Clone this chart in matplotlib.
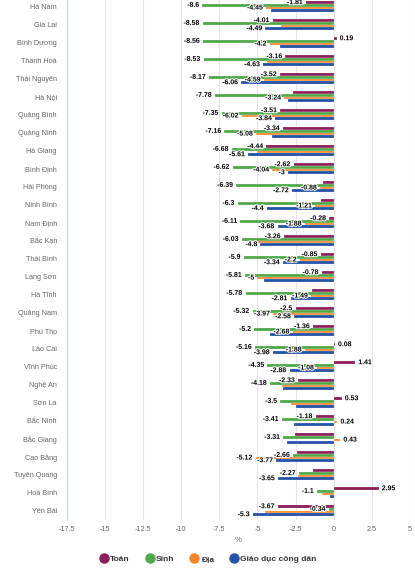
import matplotlib
matplotlib.use("Agg")
import matplotlib.pyplot as plt
import matplotlib.patheffects as pe
import numpy as np

plt.rcParams['font.family'] = ['Liberation Sans', 'DejaVu Sans']

provinces = ["Hà Nam", "Gia Lai", "Bình Dương", "Thanh Hoá", "Thái Nguyên", "Hà Nội",
             "Quảng Bình", "Quảng Ninh", "Hà Giang", "Bình Định", "Hải Phòng", "Ninh Bình",
             "Nam Định", "Bắc Kạn", "Thái Bình", "Lạng Sơn", "Hà Tĩnh", "Quảng Nam",
             "Phú Thọ", "Lào Cai", "Vĩnh Phúc", "Nghệ An", "Sơn La", "Bắc Ninh",
             "Bắc Giang", "Cao Bằng", "Tuyên Quang", "Hoà Bình", "Yên Bái"]

toan = [-1.81, -4.01, 0.19, -3.16, -3.52, -2.64, -3.51, -3.34, -4.44, -2.62,
        -0.68, -0.85, -0.28, -3.26, -0.85, -0.78, -1.4, -2.5, -1.36, 0.08,
        1.41, -2.33, 0.53, -1.18, -2.53, -2.42, -1.33, 2.95, -3.67]
sinh = [-8.6, -8.58, -8.56, -8.53, -8.17, -7.78, -7.35, -7.16, -6.68, -6.62,
        -6.39, -6.3, -6.11, -6.03, -5.9, -5.81, -5.78, -5.32, -5.2, -5.16,
        -4.35, -4.18, -3.5, -3.41, -3.31, -2.66, -2.27, -1.1, -0.34]
dia = [-4.45, -3.45, -4.2, -4.4, -4.59, -3.24, -6.02, -5.08, -5.04, -4.04,
       -0.88, -1.21, -1.88, -4.98, -2.2, -5.0, -1.49, -3.97, -2.68, -1.88,
       -1.08, -3.4, -2.8, 0.24, 0.43, -5.12, -2.36, -0.79, -4.5]
gdcd = [-4.13, -4.49, -3.52, -4.63, -6.06, -2.97, -3.84, -4.06, -5.61, -3.0,
        -2.72, -4.4, -3.68, -4.8, -3.34, -4.6, -2.81, -2.58, -4.2, -3.98,
        -2.88, -3.35, -2.47, -2.58, -3.03, -3.77, -3.65, -0.24, -5.3]

# data labels hidden in the original chart (overlaps)
toan_hidden = [5, 10, 11, 16, 24, 25, 26]
sinh_hidden = []
dia_hidden = [1, 3, 8, 13, 21, 22, 26, 27, 28]
gdcd_hidden = [0, 2, 5, 7, 15, 18, 21, 22, 23, 24, 27]

series = [("Toán", toan, toan_hidden, "#8B1D5B"),
          ("Sinh", sinh, sinh_hidden, "#4FA84A"),
          ("Địa", dia, dia_hidden, "#F5862A"),
          ("Giáo dục công dân", gdcd, gdcd_hidden, "#2352A6")]

W, H = 415, 568
fig = plt.figure(figsize=(W / 100, H / 100), dpi=100)
top_px, bot_px, left_px, right_px = -2.3, 519.7, 66.7, 410
ax = fig.add_axes([left_px / W, (H - bot_px) / H,
                   (right_px - left_px) / W, (bot_px - top_px) / H])

n = len(provinces)
y = np.arange(n)
step = 0.148
outline = [pe.withStroke(linewidth=1.6, foreground="white")]

for k, (name, vals, hidden, col) in enumerate(series):
    yy = y + (k - 1.5) * step
    ax.barh(yy, vals, height=step * 0.95, color=col, edgecolor="white",
            linewidth=0.15, zorder=3, label=name)
    for i, v in enumerate(vals):
        if i in hidden:
            continue
        off = 2.2 if v >= 0 else -2.2
        ax.annotate(f"{v:g}", (v, yy[i]), xytext=(off, 0), textcoords="offset points",
                    ha="left" if v >= 0 else "right", va="center",
                    fontsize=5, fontweight="bold", color="#000000",
                    path_effects=outline, zorder=5)

ax.set_xlim(-17.5, 5)
ax.set_ylim(n - 0.5, -0.5)
ax.set_xticks(np.arange(-17.5, 5.1, 2.5))
ax.set_xticklabels([f"{t:g}" for t in np.arange(-17.5, 5.1, 2.5)])
ax.set_yticks(y)
ax.set_yticklabels(provinces)
ax.tick_params(axis="y", length=0, pad=7, labelsize=5.2, labelcolor="#666666")
ax.tick_params(axis="x", length=0, pad=4.5, labelsize=5.2, labelcolor="#666666")
ax.grid(axis="x", color="#e6e6e6", linewidth=0.8, zorder=0)
ax.set_axisbelow(True)
for s in ["top", "right", "bottom"]:
    ax.spines[s].set_visible(False)
ax.spines["left"].set_color("#ccd6eb")
ax.spines["left"].set_linewidth(0.8)
ax.set_xlabel("%", fontsize=5.5, color="#666666", labelpad=3)

handles = [plt.Line2D([], [], marker="o", linestyle="", markersize=6.5,
                      markerfacecolor=c, markeredgecolor=c) for _, _, _, c in series]
fig.legend(handles, [s[0] for s in series], loc="center", ncol=4,
           bbox_to_anchor=(208 / W, (H - 559) / H), frameon=False,
           prop={"size": 6, "weight": "bold"}, labelcolor="#333333",
           handletextpad=0.25, columnspacing=1.9, handlelength=1.0)

fig.savefig("out.png", dpi=100)
